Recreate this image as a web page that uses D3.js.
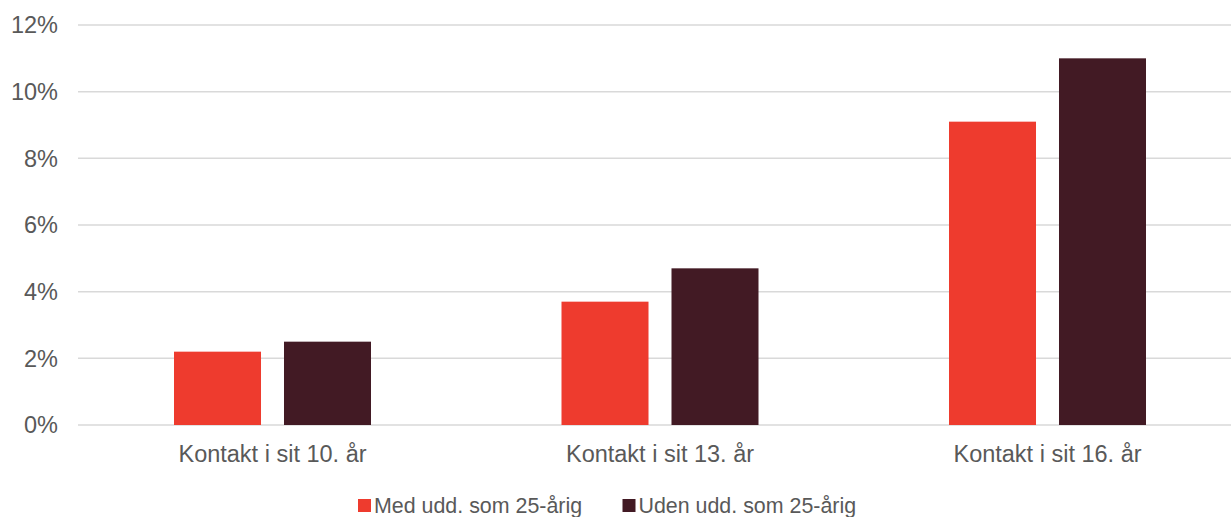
<!DOCTYPE html>
<html>
<head>
<meta charset="utf-8">
<script src="https://cdn.jsdelivr.net/npm/d3@7"></script>
<style>
  html, body { margin: 0; padding: 0; background: #fff; }
  svg { display: block; font-family: "Liberation Sans", Arial, sans-serif; }
</style>
</head>
<body>
<svg id="chart" width="1231" height="517"></svg>
<script>
const categories = ["Kontakt i sit 10. år", "Kontakt i sit 13. år", "Kontakt i sit 16. år"];
const seriesNames = ["Med udd. som 25-årig", "Uden udd. som 25-årig"];
const medUdd = [2.2, 3.7, 9.1];
const udenUdd = [2.5, 4.7, 11.0];
const yTicks = [0, 2, 4, 6, 8, 10, 12];
const colors = ["#EE3B2E", "#421A24"];

const seriesValues = [medUdd, udenUdd];
const svg = d3.select("#chart");

const x0 = d3.scaleBand().domain(categories).range([78.75, 1241.25]).padding(0);
const x1 = d3.scaleBand().domain(seriesNames).range([-98.5, 98.5]).paddingInner(0.209).paddingOuter(0);
const y = d3.scaleLinear().domain([0, 12]).range([425, 25]);

// gridlines
svg.append("g").selectAll("line").data(yTicks).join("line")
  .attr("x1", 78).attr("x2", 1241)
  .attr("y1", d => y(d)).attr("y2", d => y(d))
  .attr("stroke", "#d9d9d9").attr("stroke-width", 1.5);

// y tick labels
svg.append("g").selectAll("text").data(yTicks).join("text")
  .attr("x", 58).attr("y", d => y(d)).attr("dy", "0.35em")
  .attr("text-anchor", "end").attr("fill", "#595959")
  .style("font-size", "23.5px")
  .text(d => d + "%");

// bars
const groups = svg.append("g").selectAll("g").data(categories).join("g")
  .attr("transform", c => `translate(${x0(c) + x0.bandwidth() / 2},0)`);
groups.selectAll("rect").data((c, i) => seriesNames.map((s, j) => ({s, j, v: seriesValues[j][i]})))
  .join("rect")
  .attr("x", d => x1(d.s)).attr("width", x1.bandwidth())
  .attr("y", d => y(d.v)).attr("height", d => y(0) - y(d.v))
  .attr("fill", d => colors[d.j]);

// category labels
svg.append("g").selectAll("text").data(categories).join("text")
  .attr("x", c => x0(c) + x0.bandwidth() / 2).attr("y", 461.5)
  .attr("text-anchor", "middle").attr("fill", "#595959")
  .style("font-size", "23.5px")
  .text(c => c);

// legend
const legendX = [358, 622.5];
const leg = svg.append("g").selectAll("g").data(seriesNames).join("g")
  .attr("transform", (d, i) => `translate(${legendX[i]},0)`);
leg.append("rect").attr("x", 0).attr("y", 499).attr("width", 13).attr("height", 13)
  .attr("fill", (d, i) => colors[i]);
leg.append("text").attr("x", 16).attr("y", 512.5)
  .attr("fill", "#595959").style("font-size", "21.4px")
  .text(d => d);
</script>
</body>
</html>
